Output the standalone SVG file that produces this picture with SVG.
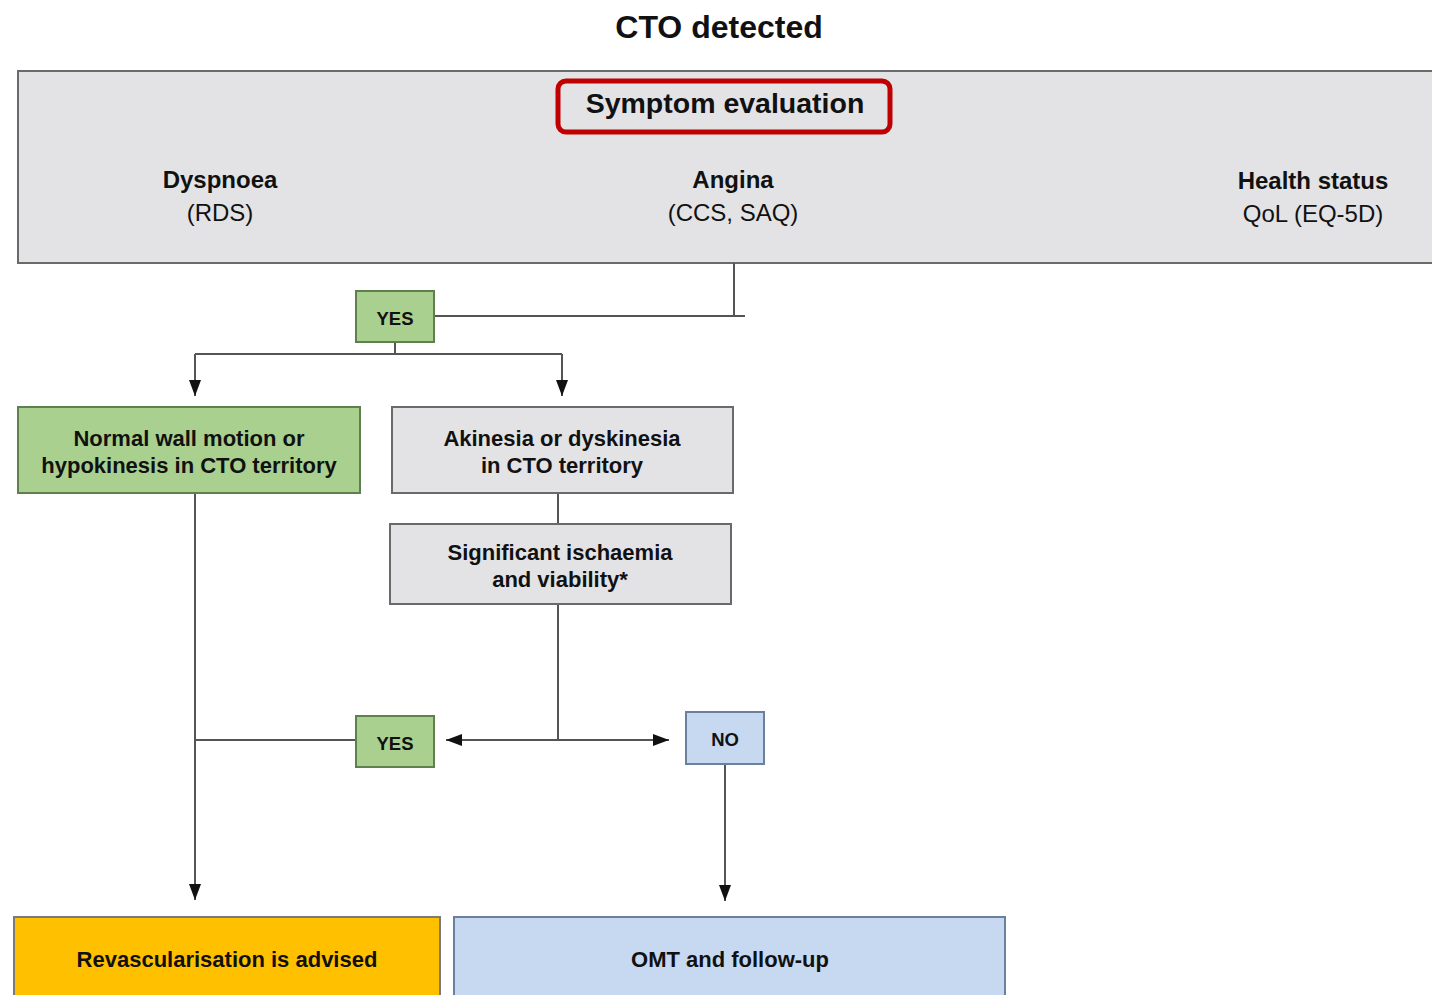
<svg xmlns="http://www.w3.org/2000/svg" width="1432" height="995" viewBox="0 0 1432 995">
<defs>
<style>
text{font-family:"Liberation Sans",Arial,sans-serif;fill:#111;text-anchor:middle}
.b{font-weight:bold}
.box{stroke:#6a6a6a;stroke-width:2}
.gray{fill:#e3e3e6}
.green{fill:#a9d08e;stroke:#5f7f4f}
.blue{fill:#c6d9f1;stroke:#6b7f9e}
.gold{fill:#ffc000;stroke:#7a7a7a}
.ln{stroke:#555;stroke-width:2;fill:none}
</style>
<marker id="ah" viewBox="0 0 16 12" refX="16" refY="6" markerWidth="16" markerHeight="12" markerUnits="userSpaceOnUse" orient="auto">
<path d="M0,0 L16,6 L0,12 Z" fill="#111"/>
</marker>
</defs>
<rect width="1432" height="995" fill="#fff"/>
<text id="title" class="b" x="719" y="38" font-size="32">CTO detected</text>

<g id="symptom-evaluation">
<rect class="box gray" x="18" y="71" width="1422" height="192" stroke="#8a8a8a"/>
<rect x="558" y="81" width="332" height="51" rx="8" fill="#e3e3e6" stroke="#c00000" stroke-width="5"/>
<text class="b" x="725" y="113" font-size="28.5">Symptom evaluation</text>
<text class="b" x="220" y="188" font-size="24">Dyspnoea</text>
<text x="220" y="221" font-size="24">(RDS)</text>
<text class="b" x="733" y="188" font-size="24">Angina</text>
<text x="733" y="221" font-size="24">(CCS, SAQ)</text>
<text class="b" x="1313" y="189" font-size="24">Health status</text>
<text x="1313" y="222" font-size="24">QoL (EQ-5D)</text>
</g>

<g id="connectors">
<path class="ln" d="M734,263 V316"/>
<path class="ln" d="M434,316 H745"/>
<path class="ln" d="M395,342 V354"/>
<path class="ln" d="M195,354 H562"/>
<path class="ln" d="M195,354 V396" marker-end="url(#ah)"/>
<path class="ln" d="M562,354 V396" marker-end="url(#ah)"/>
<path class="ln" d="M558,493 V524"/>
<path class="ln" d="M558,604 V740"/>
<path class="ln" d="M558,740 H446" marker-end="url(#ah)"/>
<path class="ln" d="M558,740 H669" marker-end="url(#ah)"/>
<path class="ln" d="M195,740 H356"/>
<path class="ln" d="M195,493 V900" marker-end="url(#ah)"/>
<path class="ln" d="M725,764 V901" marker-end="url(#ah)"/>
</g>

<g id="yes1">
<rect class="box green" x="356" y="291" width="78" height="51"/>
<text class="b" x="395" y="325" font-size="18.5">YES</text>
</g>

<g id="normal-wall">
<rect class="box green" x="18" y="407" width="342" height="86"/>
<text class="b" x="189" y="446" font-size="22">Normal wall motion or</text>
<text class="b" x="189" y="473" font-size="22">hypokinesis in CTO territory</text>
</g>

<g id="akinesia">
<rect class="box gray" x="392" y="407" width="341" height="86"/>
<text class="b" x="562" y="446" font-size="22">Akinesia or dyskinesia</text>
<text class="b" x="562" y="473" font-size="22">in CTO territory</text>
</g>

<g id="ischaemia">
<rect class="box gray" x="390" y="524" width="341" height="80"/>
<text class="b" x="560" y="560" font-size="22">Significant ischaemia</text>
<text class="b" x="560" y="587" font-size="22">and viability*</text>
</g>

<g id="yes2">
<rect class="box green" x="356" y="716" width="78" height="51"/>
<text class="b" x="395" y="750" font-size="18.5">YES</text>
</g>

<g id="no">
<rect class="box blue" x="686" y="712" width="78" height="52"/>
<text class="b" x="725" y="746" font-size="18.5">NO</text>
</g>

<g id="revascularisation">
<rect class="box gold" x="14" y="917" width="426" height="90"/>
<text class="b" x="227" y="967" font-size="22">Revascularisation is advised</text>
</g>

<g id="omt">
<rect class="box blue" x="454" y="917" width="551" height="90"/>
<text class="b" x="730" y="967" font-size="22">OMT and follow-up</text>
</g>
</svg>
